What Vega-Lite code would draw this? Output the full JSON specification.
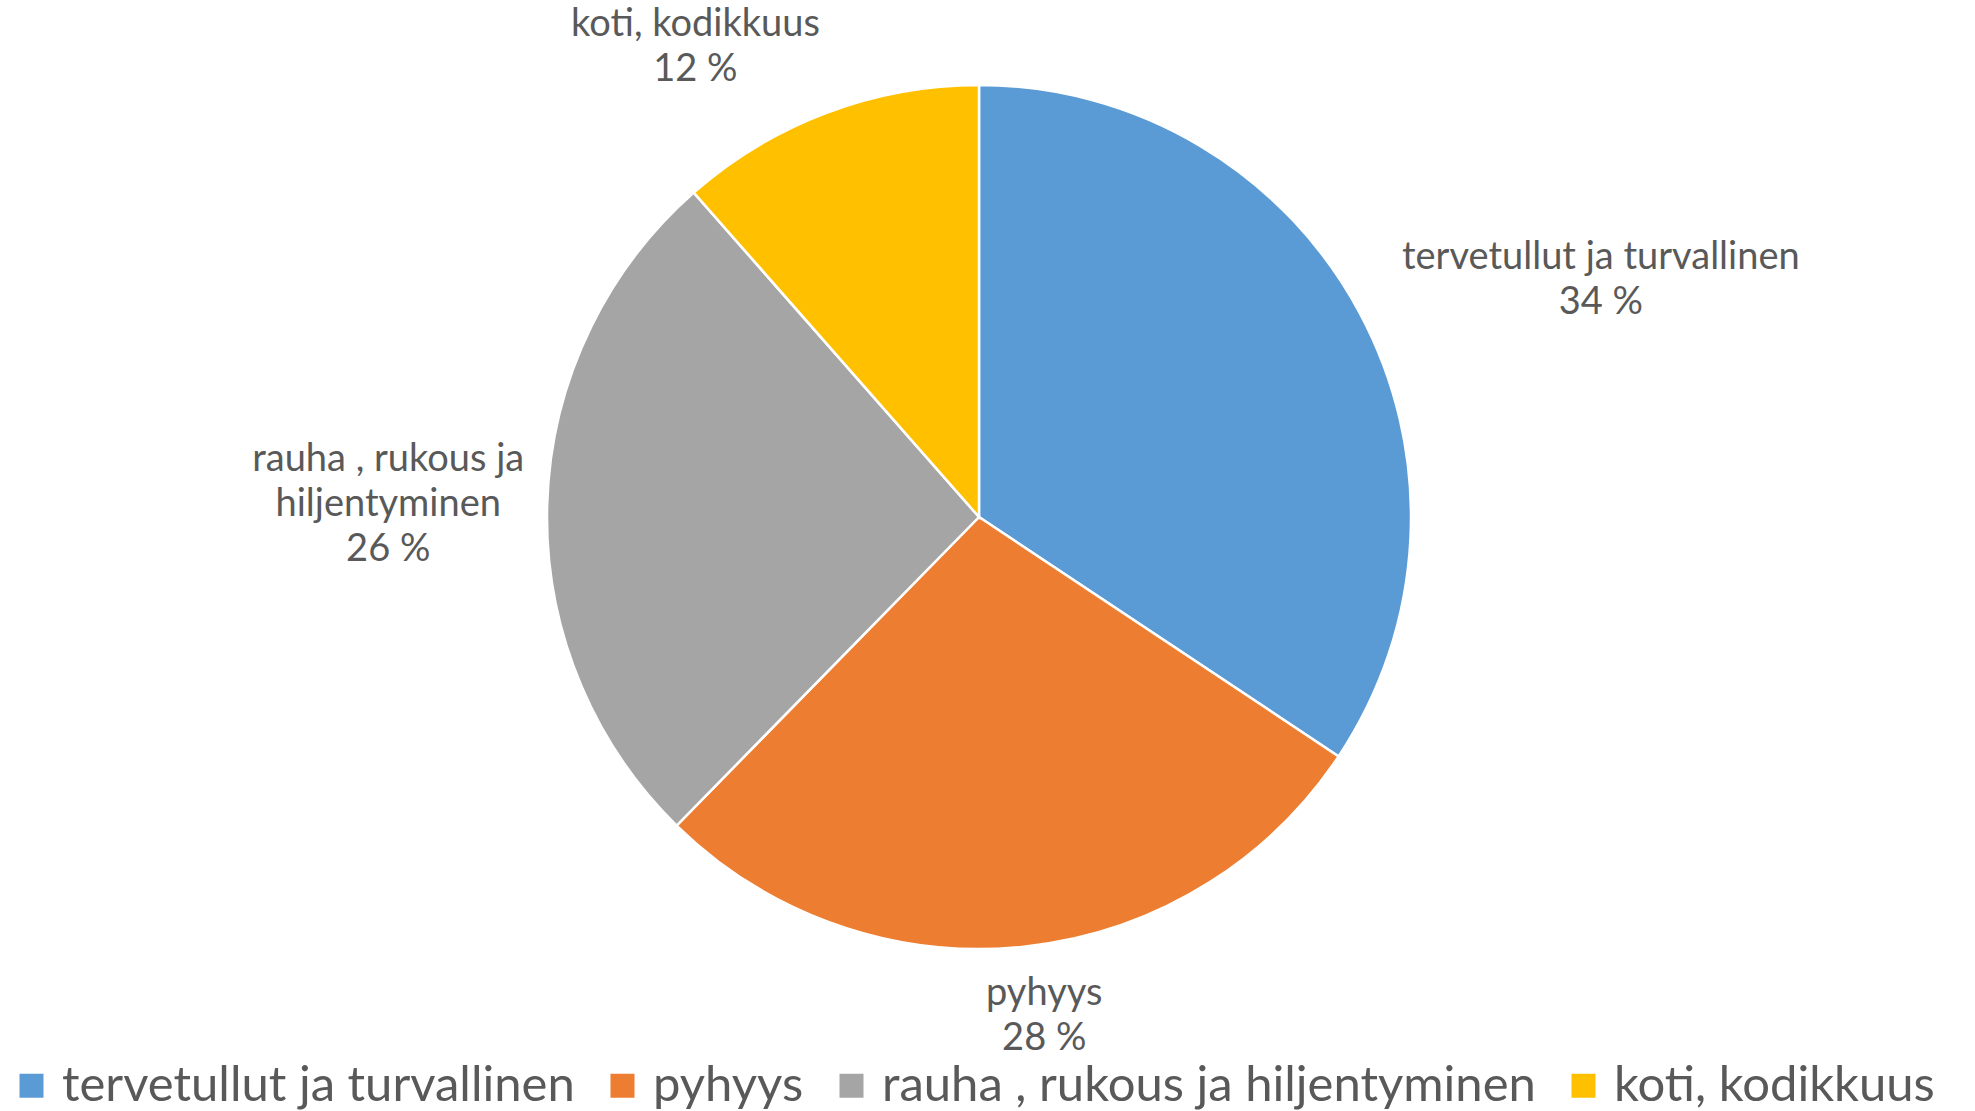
{
  "$schema": "https://vega.github.io/schema/vega-lite/v6.json",
  "width": 1958,
  "height": 1034,
  "padding": {"left": 0, "top": 0, "right": 17, "bottom": 77},
  "autosize": {"type": "none"},
  "background": "white",
  "config": {"view": {"stroke": null}},
  "data": {
    "values": [
      {"category": "tervetullut ja turvallinen", "value": 34.35, "label": "tervetullut ja turvallinen\n34 %"},
      {"category": "pyhyys", "value": 27.99, "label": "pyhyys\n28 %"},
      {"category": "rauha , rukous ja hiljentyminen", "value": 26.18, "label": "rauha , rukous ja\nhiljentyminen\n26 %"},
      {"category": "koti, kodikkuus", "value": 11.48, "label": "koti, kodikkuus\n12 %"}
    ]
  },
  "encoding": {
    "theta": {"field": "value", "type": "quantitative", "stack": true},
    "order": {"field": "value", "type": "quantitative", "sort": "descending"}
  },
  "layer": [
    {
      "mark": {"type": "arc", "radius": 432, "stroke": "white", "strokeWidth": 2.5},
      "encoding": {
        "color": {
          "field": "category",
          "type": "nominal",
          "sort": ["tervetullut ja turvallinen", "pyhyys", "rauha , rukous ja hiljentyminen", "koti, kodikkuus"],
          "scale": {
            "domain": ["tervetullut ja turvallinen", "pyhyys", "rauha , rukous ja hiljentyminen", "koti, kodikkuus"],
            "range": ["#5B9BD5", "#ED7D31", "#A5A5A5", "#FFC000"]
          },
          "legend": {
            "orient": "none",
            "legendX": 7,
            "legendY": 1061,
            "direction": "horizontal",
            "columns": 4,
            "title": null,
            "symbolType": "square",
            "symbolSize": 576,
            "symbolStrokeWidth": 0,
            "symbolOpacity": 1,
            "labelFont": "Lato",
            "labelFontSize": 49,
            "labelColor": "#595959",
            "labelLimit": 2000,
            "labelOffset": 6,
            "columnPadding": 23,
            "padding": 0
          }
        }
      }
    },
    {
      "mark": {"type": "text", "radius": 660, "dx": 40, "dy": 52.5, "lineBreak": "\n", "font": "Lato", "fontSize": 38, "lineHeight": 45, "align": "center", "baseline": "middle"},
      "encoding": {
        "detail": {"field": "category", "type": "nominal"},
        "color": {"value": "#595959"},
        "text": {"condition": {"test": "datum.category === 'tervetullut ja turvallinen'", "field": "label"}, "value": ""}
      }
    },
    {
      "mark": {"type": "text", "radius": 503, "dx": 13, "dy": -23.5, "lineBreak": "\n", "font": "Lato", "fontSize": 38, "lineHeight": 45, "align": "center", "baseline": "middle"},
      "encoding": {
        "detail": {"field": "category", "type": "nominal"},
        "color": {"value": "#595959"},
        "text": {"condition": {"test": "datum.category === 'pyhyys'", "field": "label"}, "value": ""}
      }
    },
    {
      "mark": {"type": "text", "radius": 591, "dx": 0, "dy": -41, "lineBreak": "\n", "font": "Lato", "fontSize": 38, "lineHeight": 45, "align": "center", "baseline": "middle"},
      "encoding": {
        "detail": {"field": "category", "type": "nominal"},
        "color": {"value": "#595959"},
        "text": {"condition": {"test": "datum.category === 'rauha , rukous ja hiljentyminen'", "field": "label"}, "value": ""}
      }
    },
    {
      "mark": {"type": "text", "radius": 540, "dx": -93, "dy": 13.5, "lineBreak": "\n", "font": "Lato", "fontSize": 38, "lineHeight": 45, "align": "center", "baseline": "middle"},
      "encoding": {
        "detail": {"field": "category", "type": "nominal"},
        "color": {"value": "#595959"},
        "text": {"condition": {"test": "datum.category === 'koti, kodikkuus'", "field": "label"}, "value": ""}
      }
    }
  ]
}
